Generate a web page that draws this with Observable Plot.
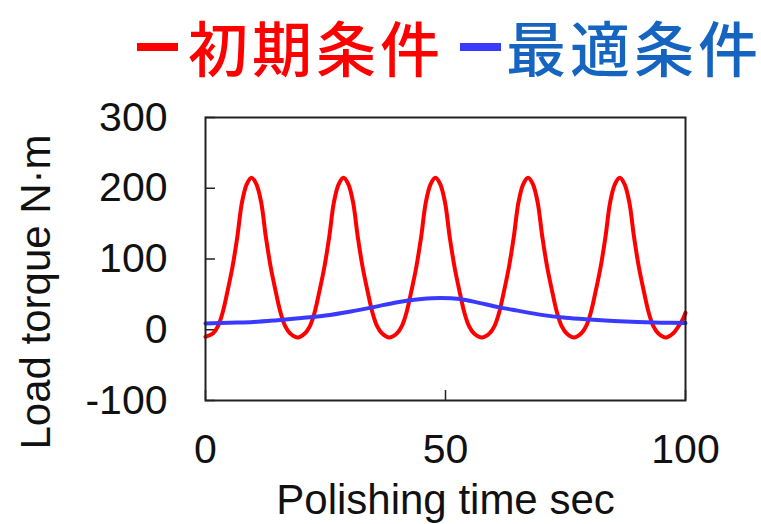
<!DOCTYPE html>
<html><head><meta charset="utf-8">
<script src="https://cdn.jsdelivr.net/npm/d3@7"></script>
<script src="https://cdn.jsdelivr.net/npm/@observablehq/plot@0.6"></script>
<style>
body{margin:0;background:#fff;}
#wrap{position:relative;width:761px;height:524px;overflow:hidden;background:#fff;}
.t{position:absolute;font-family:"Noto Sans CJK JP";font-weight:500;font-size:60px;line-height:60px;white-space:nowrap;letter-spacing:4px}
.d{position:absolute;height:8px;width:41px}
#chart{position:absolute;left:0;top:100px}
</style></head><body>
<div id="wrap"><div id="legend"></div><div id="chart"></div></div>
<script>
const seriesNames = ["初期条件", "最適条件"];
const lineColors = ["#ff0000", "#3a3aff"];
const textColors = ["#ff0000", "#1565c0"];

const xTicks = [0, 50, 100];
const yTicks = [-100, 0, 100, 200, 300];
const xLabel = "Polishing time sec";
const yLabel = "Load torque N·m";

const redTime = [0, 1.6, 2.6, 3.6, 4.6, 5.6, 6.6, 7.6, 8.6, 9.6, 10.6, 11.6, 12.6, 13.6, 14.6, 15.6, 16.6, 17.6, 19.2,
  20.75, 21.75, 22.75, 23.75, 24.75, 25.75, 26.75, 27.75, 28.75, 29.75, 30.75, 31.75, 32.75, 33.75, 34.75, 35.75, 36.75, 38.3,
  39.9, 40.9, 41.9, 42.9, 43.9, 44.9, 45.9, 46.9, 47.9, 48.9, 49.9, 50.9, 51.9, 52.9, 53.9, 54.9, 55.9, 57.55,
  59.2, 60.2, 61.2, 62.2, 63.2, 64.2, 65.2, 66.2, 67.2, 68.2, 69.2, 70.2, 71.2, 72.2, 73.2, 74.2, 75.2, 76.75,
  78.3, 79.3, 80.3, 81.3, 82.3, 83.3, 84.3, 85.3, 86.3, 87.3, 88.3, 89.3, 90.3, 91.3, 92.3, 93.3, 94.3, 95.9,
  97.45, 98.45, 99.45, 100];
const redTorque = [-10, -5, 5, 25, 55, 88, 130, 180, 206, 215, 206, 180, 130, 88, 55, 25, 5, -5, -11,
  -5, 5, 25, 55, 88, 130, 180, 206, 215, 206, 180, 130, 88, 55, 25, 5, -5, -11,
  -5, 5, 25, 55, 88, 130, 180, 206, 215, 206, 180, 130, 88, 55, 25, 5, -5, -11,
  -5, 5, 25, 55, 88, 130, 180, 206, 215, 206, 180, 130, 88, 55, 25, 5, -5, -11,
  -5, 5, 25, 55, 88, 130, 180, 206, 215, 206, 180, 130, 88, 55, 25, 5, -5, -11,
  -5, 4, 15, 24];

const blueTime = [0, 5, 10, 15, 20, 25, 30, 35, 40, 45, 49, 53, 57, 61, 65, 70, 75, 80, 85, 90, 95, 100];
const blueTorque = [9, 10, 11, 13.5, 16.5, 20, 25.5, 32, 39, 43.5, 45, 43.5, 38, 32, 27, 21, 17, 14.5, 12.5, 11, 10, 9.5];

const redData = redTime.map((t, i) => ({t, v: redTorque[i]}));
const blueData = blueTime.map((t, i) => ({t, v: blueTorque[i]}));

// legend
const legend = document.getElementById("legend");
const legendPos = [{dash: 137, text: 188}, {dash: 460, text: 506}];
seriesNames.forEach((name, i) => {
  const d = document.createElement("div");
  d.className = "d";
  d.style.left = legendPos[i].dash + "px";
  d.style.top = "43px";
  d.style.background = lineColors[i];
  legend.appendChild(d);
  const s = document.createElement("div");
  s.className = "t";
  s.style.left = legendPos[i].text + "px";
  s.style.top = "16px";
  s.style.color = textColors[i];
  s.textContent = name;
  legend.appendChild(s);
});

const plot = Plot.plot({
  width: 761, height: 424,
  marginLeft: 205, marginRight: 76, marginTop: 17, marginBottom: 124,
  x: {domain: [0, 100]},
  y: {domain: [-100, 300]},
  style: {fontFamily: "Liberation Sans", fontSize: "41px", color: "#111", background: "#fff", overflow: "visible"},
  marks: [
    Plot.axisY(yTicks, {tickSize: 0, tickPadding: 38, label: null, tickFormat: d => String(d)}),
    Plot.axisX(xTicks, {tickSize: 0, tickPadding: 33, label: null, tickFormat: d => String(d)}),
    Plot.tickY(yTicks, {y: d => d, insetRight: 470, stroke: "#222", strokeWidth: 1.5}),
    Plot.tickX(xTicks, {x: d => d, insetTop: 273, stroke: "#222", strokeWidth: 1.5}),
    Plot.line(redData, {x: "t", y: "v", stroke: lineColors[0], strokeWidth: 4, curve: "catmull-rom"}),
    Plot.line(blueData, {x: "t", y: "v", stroke: lineColors[1], strokeWidth: 4, curve: "catmull-rom"}),
    Plot.frame({stroke: "#222", strokeWidth: 2}),
    Plot.text([yLabel], {text: d => d, frameAnchor: "left", textAnchor: "middle", lineAnchor: "middle", rotate: -90, dx: -169, dy: 33, fontSize: 42, fill: "#111"}),
    Plot.text([xLabel], {text: d => d, frameAnchor: "bottom", textAnchor: "middle", lineAnchor: "top", dy: 84, fontSize: 42, fill: "#111"})
  ]
});
document.getElementById("chart").appendChild(plot);
</script>
</body></html>
